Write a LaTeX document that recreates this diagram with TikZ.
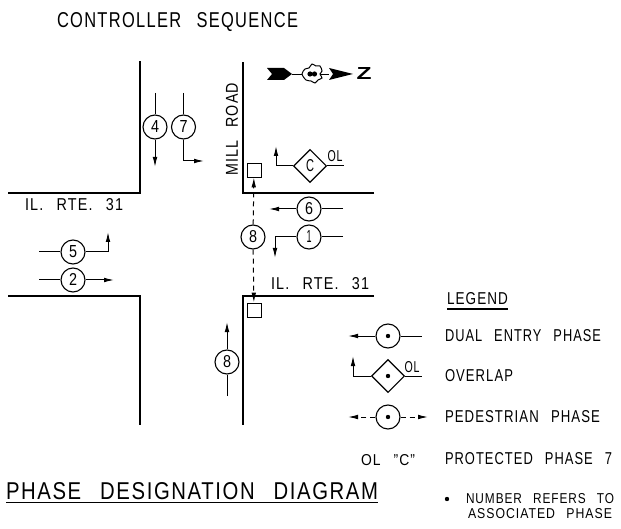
\documentclass[tikz,border=0pt]{standalone}
\usepackage{fontspec}
\usepackage{graphicx}
\setmainfont[LetterSpace=8,WordSpace=2.6]{Liberation Sans}
\usetikzlibrary{arrows.meta,shapes.geometric}
\newcommand{\lbl}[3]{\resizebox{#1pt}{#2pt}{#3}}
\tikzset{
  x=1pt,y=-1pt,
  road/.style={line width=1.7pt},
  thin line/.style={line width=1pt},
  tip/.style={-{Latex[length=10pt,width=4.6pt]}},
  arr/.style={thin line,tip},
  ped/.style={thin line,dash pattern=on 5pt off 4pt,tip},
  phase/.style={circle,draw,line width=1.1pt,minimum size=24pt,inner sep=0pt,fill=white},
  ovl/.style={diamond,draw,line width=1.1pt,minimum size=33pt,inner sep=0pt,fill=white},
  sq/.style={rectangle,draw,line width=0.8pt,minimum size=14pt,inner sep=0pt},
  txt/.style={inner sep=0pt,outer sep=0pt,anchor=west},
  dotc/.style={circle,fill,inner sep=0pt,minimum size=4.4pt}
}
\begin{document}
\begin{tikzpicture}
\useasboundingbox (0,0) rectangle (621,529);
% titles
\node[txt,anchor=base west] (t1) at (57,28) {\lbl{241}{15}{CONTROLLER SEQUENCE}};
\node[txt,anchor=base west] (t2) at (6,499) {\lbl{372}{17}{PHASE DESIGNATION DIAGRAM}};
\coordinate (u1) at (6,502.5); \coordinate (u2) at (378,502.5);
\draw[road] (u1) -- (u2);
% roads
\draw[road] (8,193) -- (140,193) -- (140,61);
\draw[road] (8,296) -- (140,296) -- (140,425);
\draw[road] (374,193) -- (243,193) -- (243,62);
\draw[road] (374,296) -- (243,296) -- (243,425);
\node[txt] (r1) at (25,205) {\lbl{98}{12}{IL. RTE. 31}};
\node[txt] (r2) at (271,284) {\lbl{98}{12}{IL. RTE. 31}};
\node[rotate=90,inner sep=0pt] (r3) at (232,129.5) {\lbl{93}{12}{MILL ROAD}};
% phases
\node[phase] (p4) at (155,127) {\lbl{8}{12}{4}};
\node[phase] (p7) at (183.5,127) {\lbl{8}{12}{7}};
\draw[thin line] (155,93) -- (p4);
\draw[arr] (p4) -- (155,167);
\draw[thin line] (183.5,93) -- (p7);
\draw[arr] (p7) -- (183.5,161) -- (204,161);
\node[phase] (p5) at (73,252) {\lbl{8}{12}{5}};
\node[phase] (p2) at (73,280) {\lbl{8}{12}{2}};
\draw[thin line] (39,252) -- (p5);
\draw[arr] (p5) -- (108,252) -- (108,232);
\draw[thin line] (39,280) -- (p2);
\draw[arr] (p2) -- (114,280);
\node[phase] (p6) at (309,209) {\lbl{8}{12}{6}};
\node[phase] (p1) at (309,237) {\lbl{5}{12}{1}};
\draw[thin line] (343,209) -- (p6);
\draw[arr] (p6) -- (269,209);
\draw[thin line] (343,237) -- (p1);
\draw[arr] (p1) -- (275,237) -- (275,258);
\node[phase] (p8b) at (227,362) {\lbl{8}{12}{8}};
\draw[thin line] (227,396) -- (p8b);
\draw[arr] (p8b) -- (227,322);
% pedestrian
\node[sq] (s1) at (254,170) {};
\node[sq] (s2) at (254,310) {};
\node[phase] (p8) at (253,237) {\lbl{8}{12}{8}};
\draw[ped] (p8) -- (s1);
\draw[ped] (p8) -- (s2);
% overlap C
\node[ovl] (c) at (310,166) {\lbl{8}{12}{C}};
\draw[arr] (c) -- (276,166) -- (276,146);
\draw[thin line] (c) -- (344,166);
\node[inner sep=0pt] (ol1) at (335,156) {\lbl{15}{11}{OL}};
% north arrow
\fill (267,68) -- (284,68) -- (292,74) -- (284,80) -- (267,80) -- (272,74) -- cycle;
\draw[line width=.8pt] (292,74) -- (329,74);
\draw[line width=1pt,fill=white] plot[smooth cycle] coordinates {(302,74) (305,69) (309,68) (312,64) (316,66) (320,66) (322,71) (320,74) (322,78) (318,80) (315,83) (311,81) (306,80)};
\fill (310,74) circle (2.6pt) (314.5,74) circle (2.6pt);
\fill (329,68) -- (353,74) -- (329,80) -- (333,74) -- cycle;
\node[inner sep=0pt] (z) at (364,74) {\bfseries\lbl{15}{12}{Z}};
% legend
\node[txt] (lg) at (447,299) {\lbl{61}{12}{LEGEND}};
\coordinate (lu1) at (447,309); \coordinate (lu2) at (508,309);
\draw[road] (lu1) -- (lu2);
\node[phase] (d1) at (388,336) {}; \node[dotc] at (d1) {};
\draw[arr] (d1) -- (348,336);
\draw[thin line] (d1) -- (422,336);
\node[ovl] (d2) at (388,376) {}; \node[dotc] at (d2) {};
\draw[arr] (d2) -- (353,376) -- (353,356);
\draw[thin line] (d2) -- (422,376);
\node[inner sep=0pt] (ol2) at (412,367) {\lbl{15}{11}{OL}};
\node[phase] (d3) at (388,417) {}; \node[dotc] at (d3) {};
\draw[ped] (d3) -- (348,417);
\draw[ped] (d3) -- (428,417);
\node[inner sep=0pt] (olc) at (388,460) {\lbl{54}{11}{OL ''C''}};
\node[txt] (a1) at (445,336) {\lbl{156}{12}{DUAL ENTRY PHASE}};
\node[txt] (a2) at (445,376) {\lbl{68}{12}{OVERLAP}};
\node[txt] (a3) at (445,417) {\lbl{155}{12}{PEDESTRIAN PHASE}};
\node[txt] (a4) at (445,459) {\lbl{167}{12}{PROTECTED PHASE 7}};
\node[dotc] (b) at (447,499) {};
\node[txt] (a5) at (466,499) {\lbl{148}{10}{NUMBER REFERS TO}};
\node[txt] (a6) at (468,514) {\lbl{144}{10}{ASSOCIATED PHASE}};
\end{tikzpicture}
\end{document}
